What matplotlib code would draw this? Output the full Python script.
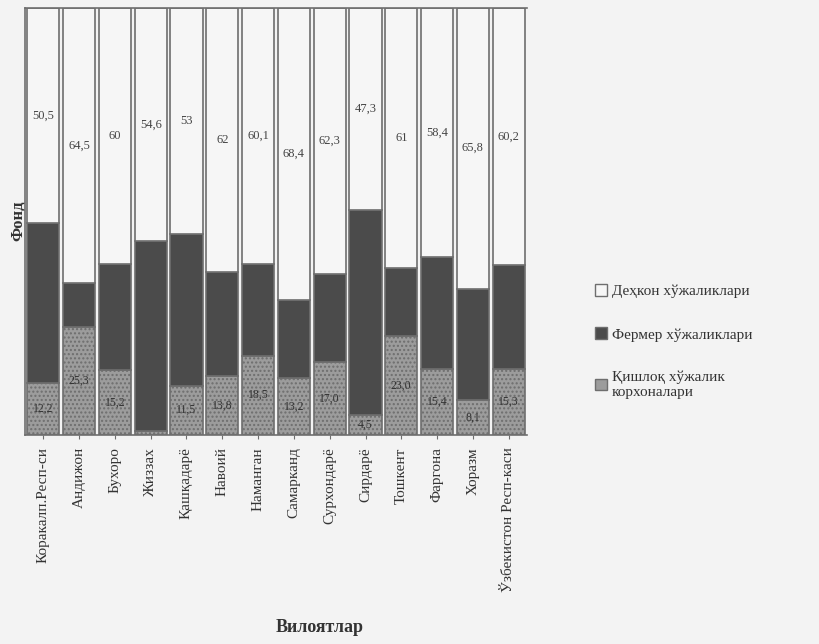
import numpy as np
import matplotlib
matplotlib.use("Agg")
import matplotlib.pyplot as plt
from matplotlib.patches import Patch

plt.rcParams['font.family'] = ['Liberation Serif', 'DejaVu Serif']

# Вилоятлар
regions = ['Коракалп.Респ-си', 'Андижон', 'Бухоро', 'Жиззах', 'Қашқадарё', 'Навоий',
           'Наманган', 'Самарканд', 'Сурхондарё', 'Сирдарё', 'Тошкент', 'Фаргона',
           'Хоразм', 'Ўзбекистон Респ-каси']

# улушлар, %
qishloq = [12.2, 25.3, 15.2, 0.9, 11.5, 13.8, 18.5, 13.2, 17.0, 4.5, 23.0, 15.4, 8.1, 15.3]
fermer = [37.3, 10.2, 24.8, 44.5, 35.5, 24.2, 21.4, 18.4, 20.7, 48.2, 16.0, 26.2, 26.1, 24.5]
dehqon = [50.5, 64.5, 60.0, 54.6, 53.0, 62.0, 60.1, 68.4, 62.3, 47.3, 61.0, 58.4, 65.8, 60.2]

bg = '#f3f3f3'
c_qishloq = '#9c9c9c'
c_fermer = '#4b4b4b'
c_dehqon = '#f6f6f6'
edge = '#6e6e6e'

fig = plt.figure(figsize=(8.19, 6.44), dpi=100, facecolor=bg)
ax = fig.add_axes([0.031, 0.325, 0.612, 0.663])
ax.set_facecolor(bg)

x = np.arange(len(regions))
w = 0.9
q = np.array(qishloq)
f = np.array(fermer)
d = np.array(dehqon)

ax.bar(x, q, w, color=c_qishloq, edgecolor=edge, linewidth=1.2, hatch='....')
ax.bar(x, f, w, bottom=q, color=c_fermer, edgecolor=edge, linewidth=1.2)
ax.bar(x, d, w, bottom=q + f, color=c_dehqon, edgecolor=edge, linewidth=1.2)

for i in range(len(regions)):
    ax.text(x[i], q[i] + f[i] + d[i] / 2, f"{d[i]:g}".replace('.', ','),
            ha='center', va='center', fontsize=9, color='#444444')
    if q[i] > 3:
        ax.text(x[i], q[i] / 2, f"{q[i]:.1f}".replace('.', ','),
                ha='center', va='center', fontsize=8.5, color='#333333')

ax.set_xlim(-0.5, len(regions) - 0.5)
ax.set_ylim(0, 100)
ax.set_yticks([])
ax.set_xticks(x)
ax.set_xticklabels(regions, rotation=90, fontsize=11, color='#333333')
ax.tick_params(axis='x', length=3, color=edge, pad=6)
for s in ax.spines.values():
    s.set_color(edge)
    s.set_linewidth(1.2)
ax.spines['right'].set_visible(False)

ax.set_ylabel('Фонд', fontsize=12, fontweight='bold', color='#333333', labelpad=-1)
fig.text(0.39, 0.018, 'Вилоятлар', fontsize=13, fontweight='bold', color='#333333', ha='center')

handles = [Patch(facecolor=c_dehqon, edgecolor=edge),
           Patch(facecolor=c_fermer, edgecolor=edge),
           Patch(facecolor=c_qishloq, edgecolor=edge)]
labels = ['Деҳкон хўжаликлари', 'Фермер хўжаликлари', 'Қишлоқ хўжалик\nкорхоналари']
fig.legend(handles, labels, loc='upper left', bbox_to_anchor=(0.71, 0.58),
           frameon=False, fontsize=11, labelspacing=1.9, handlelength=0.8,
           handleheight=0.8, handletextpad=0.3, labelcolor='#333333')

plt.savefig('out.png', dpi=100, facecolor=bg)
